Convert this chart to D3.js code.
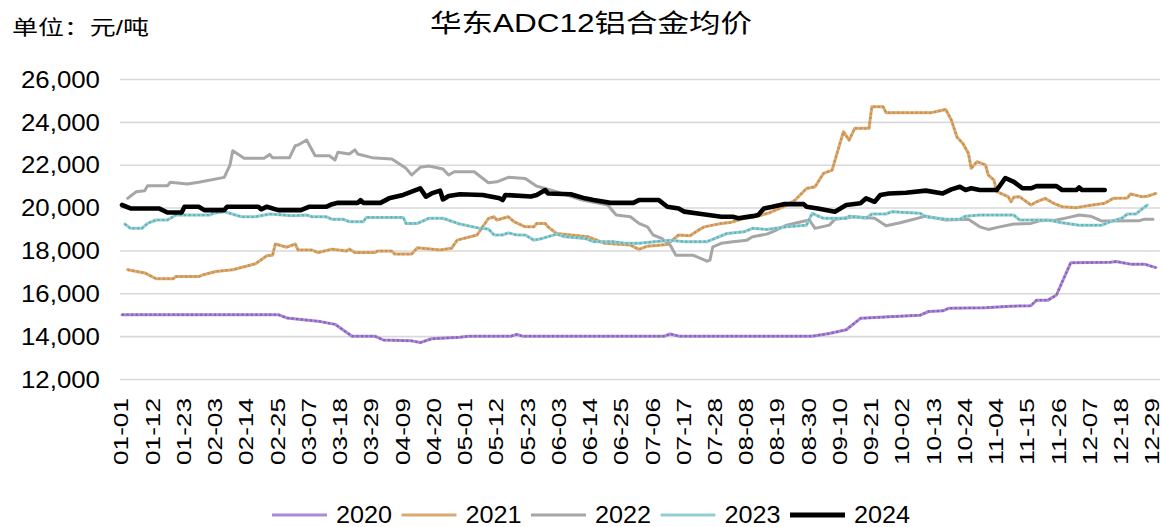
<!DOCTYPE html>
<html>
<head>
<meta charset="utf-8">
<script src="https://cdn.jsdelivr.net/npm/d3@7"></script>
<style>
  html, body { margin: 0; padding: 0; background: #fff; }
  svg { display: block; }
  text { font-family: "Liberation Sans", Arial, "Noto Sans CJK SC", sans-serif; fill: #000; }
</style>
</head>
<body>
<svg id="chart" width="1162" height="527"></svg>
<script>
// 华东ADC12铝合金均价, yearly series on a shared month-day axis
const titleText = "华东ADC12铝合金均价";
const unitText = "单位：元/吨";

const years = ["2020", "2021", "2022", "2023", "2024"];

const yTicks = [12000, 14000, 16000, 18000, 20000, 22000, 24000, 26000];

const xTickLabels = ["01-01","01-12","01-23","02-03","02-14","02-25","03-07","03-18","03-29",
  "04-09","04-20","05-01","05-12","05-23","06-03","06-14","06-25","07-06","07-17","07-28",
  "08-08","08-19","08-30","09-10","09-21","10-02","10-13","10-24","11-04","11-15","11-26",
  "12-07","12-18","12-29"];

const s2020 = [["01-01",15000],["02-25",15000],["02-28",14850],["03-04",14780],["03-10",14700],
  ["03-16",14550],["03-22",14000],["03-30",14000],["04-02",13820],["04-12",13780],["04-15",13700],
  ["04-19",13880],["04-29",13950],["05-02",14000],["05-17",14000],["05-19",14080],["05-21",14000],
  ["07-10",14000],["07-12",14100],["07-15",14000],["08-31",14000],["09-06",14120],["09-12",14300],
  ["09-17",14830],["09-27",14900],["10-08",14980],["10-11",15150],["10-16",15180],["10-18",15300],
  ["10-31",15330],["11-09",15400],["11-16",15420],["11-18",15680],["11-22",15680],["11-25",15920],
  ["11-30",17420],["12-14",17450],["12-16",17480],["12-21",17360],["12-26",17360],["12-30",17200]];

const s2021 = [["01-03",17100],["01-09",16950],["01-13",16680],["01-19",16680],["01-20",16780],
  ["01-28",16780],["01-30",16880],["02-03",17020],["02-09",17100],["02-17",17380],["02-21",17750],
  ["02-23",17780],["02-24",18300],["02-28",18150],["03-02",18300],["03-03",18020],["03-08",18020],
  ["03-10",17900],["03-15",18060],["03-20",17970],["03-21",18060],["03-23",17900],["03-30",17900],
  ["03-31",17970],["04-05",17970],["04-06",17830],["04-12",17830],["04-14",18120],["04-22",18020],
  ["04-26",18100],["04-28",18480],["05-05",18720],["05-09",19490],["05-11",19570],["05-12",19420],
  ["05-16",19570],["05-18",19340],["05-22",19100],["05-25",19100],["05-26",19260],["05-29",19260],
  ["05-30",19100],["06-02",18790],["06-07",18720],["06-13",18640],["06-19",18330],["06-28",18250],
  ["07-01",18050],["07-04",18200],["07-11",18280],["07-15",18720],["07-19",18680],["07-22",18950],
  ["07-24",19100],["07-27",19180],["07-30",19260],["08-02",19300],["08-07",19490],["08-11",19570],
  ["08-16",19760],["08-21",20040],["08-25",20350],["08-29",20890],["09-01",20970],["09-04",21600],
  ["09-07",21750],["09-11",23540],["09-13",23150],["09-15",23700],["09-20",23700],["09-21",24700],
  ["09-25",24700],["09-26",24430],["10-12",24430],["10-17",24580],["10-19",24090],["10-21",23280],
  ["10-23",23000],["10-25",22530],["10-26",21830],["10-28",22140],["10-31",21990],["11-01",21520],
  ["11-03",21280],["11-04",20740],["11-08",20510],["11-09",20270],["11-10",20480],["11-12",20510],
  ["11-16",20120],["11-18",20270],["11-21",20430],["11-24",20200],["11-27",20040],["12-02",19990],
  ["12-06",20090],["12-12",20200],["12-15",20430],["12-20",20450],["12-21",20630],["12-25",20510],
  ["12-27",20530],["12-30",20660]];

const s2022 = [["01-03",20430],["01-06",20740],["01-09",20790],["01-10",21020],["01-17",21020],
  ["01-18",21180],["01-24",21100],["01-28",21180],["02-06",21410],["02-08",21980],["02-09",22650],
  ["02-13",22300],["02-20",22300],["02-22",22480],["02-23",22330],["02-29",22330],["03-02",22890],
  ["03-03",22920],["03-06",23150],["03-09",22420],["03-14",22420],["03-16",22220],["03-17",22580],
  ["03-21",22500],["03-23",22690],["03-24",22500],["03-29",22330],["04-05",22270],["04-10",21830],
  ["04-12",21520],["04-15",21880],["04-18",21940],["04-23",21800],["04-25",21520],["04-27",21670],
  ["05-04",21670],["05-09",21160],["05-12",21200],["05-16",21410],["05-22",21360],["05-26",21000],
  ["05-29",20890],["06-02",20740],["06-11",20350],["06-20",20120],["06-23",19650],["06-28",19570],
  ["07-01",19260],["07-04",19100],["07-06",18720],["07-09",18560],["07-12",18250],["07-14",17780],
  ["07-20",17780],["07-25",17500],["07-26",17550],["07-27",18170],["07-30",18330],["08-03",18410],
  ["08-08",18480],["08-10",18640],["08-15",18760],["08-17",18870],["08-22",19180],["08-26",19300],
  ["08-30",19420],["09-01",19030],["09-06",19180],["09-08",19450],["09-15",19570],["09-22",19500],
  ["09-26",19150],["10-01",19290],["10-10",19600],["10-17",19420],["10-25",19450],["10-29",19100],
  ["11-01",18980],["11-05",19100],["11-10",19230],["11-16",19260],["11-19",19380],["11-25",19420],
  ["11-29",19530],["12-03",19650],["12-07",19600],["12-11",19370],["12-24",19380],["12-26",19460],
  ["12-29",19460]];

const s2023 = [["01-02",19230],["01-04",19030],["01-08",19030],["01-10",19260],["01-13",19420],
  ["01-17",19420],["01-20",19650],["02-01",19650],["02-02",19730],["02-06",19810],["02-12",19570],
  ["02-17",19570],["02-22",19700],["03-01",19620],["03-06",19650],["03-08",19570],["03-13",19570],
  ["03-15",19450],["03-19",19450],["03-21",19340],["03-26",19340],["03-27",19540],["04-09",19540],
  ["04-10",19260],["04-14",19260],["04-18",19500],["04-23",19500],["04-29",19230],["05-06",19030],
  ["05-09",19000],["05-11",18720],["05-14",18720],["05-16",18820],["05-19",18720],["05-22",18720],
  ["05-25",18480],["05-28",18560],["06-02",18760],["06-05",18640],["06-12",18560],["06-15",18410],
  ["06-22",18410],["06-26",18330],["07-01",18330],["07-12",18480],["07-17",18410],["07-25",18410],
  ["08-01",18790],["08-07",18870],["08-10",19030],["08-15",18980],["08-22",19100],["08-29",19180],
  ["08-31",19730],["09-04",19500],["09-12",19500],["09-13",19600],["09-19",19500],["09-21",19700],
  ["09-26",19700],["09-28",19810],["10-08",19730],["10-10",19570],["10-17",19450],["10-22",19450],
  ["10-24",19600],["10-29",19650],["11-10",19650],["11-12",19420],["11-22",19420],["11-27",19290],
  ["12-03",19180],["12-11",19180],["12-14",19340],["12-18",19500],["12-20",19700],["12-23",19700],
  ["12-25",19920],["12-27",20120]];

const s2024 = [["01-01",20120],["01-04",19960],["01-14",19960],["01-17",19770],["01-22",19770],
  ["01-23",20040],["01-28",20040],["01-30",19880],["02-06",19880],["02-07",20040],["02-18",20040],
  ["02-19",19920],["02-21",20040],["02-25",19880],["03-04",19880],["03-07",20040],["03-13",20040],
  ["03-15",20160],["03-17",20220],["03-24",20220],["03-25",20350],["03-26",20220],["04-01",20220],
  ["04-04",20430],["04-09",20590],["04-12",20740],["04-15",20900],["04-17",20510],["04-19",20660],
  ["04-22",20790],["04-23",20380],["04-25",20540],["04-29",20620],["05-07",20590],["05-13",20430],
  ["05-14",20350],["05-15",20590],["05-24",20520],["05-26",20590],["05-29",20820],["05-30",20660],
  ["06-07",20620],["06-12",20430],["06-15",20350],["06-21",20220],["06-29",20220],["07-01",20350],
  ["07-08",20350],["07-11",20040],["07-15",19960],["07-17",19810],["07-23",19700],["07-30",19570],
  ["08-03",19570],["08-05",19500],["08-10",19600],["08-12",19650],["08-14",19960],["08-17",20040],
  ["08-21",20160],["08-28",20160],["08-29",20040],["09-02",19960],["09-08",19810],["09-12",20120],
  ["09-17",20200],["09-19",20430],["09-22",20270],["09-24",20590],["09-27",20660],["10-03",20690],
  ["10-10",20790],["10-16",20660],["10-19",20850],["10-22",20970],["10-24",20820],["10-26",20900],
  ["10-29",20820],["11-04",20820],["11-07",21380],["11-10",21200],["11-13",20900],["11-16",20900],
  ["11-18",21000],["11-25",21000],["11-27",20820],["12-02",20820],["12-03",20940],["12-04",20820],
  ["12-12",20820]];

const seriesData = [s2020, s2021, s2022, s2023, s2024];

// styling per year
const lineColors = ["#a98ad3", "#d9aa72", "#a6a6a6", "#93cdd2", "#000000"];
const dotColors  = ["#7d4db3", "#c8863a", null, "#4aa9b2", null];
const lineWidths = [3, 3, 3, 3, 4.6];

const svg = d3.select("#chart");
const plotLeft = 120, plotRight = 1160, plotTop = 79, plotBottom = 379;

const parseDay = d3.timeParse("%Y-%m-%d");
const toDate = md => parseDay("2024-" + md);

const x = d3.scaleTime()
  .domain([toDate("01-01"), toDate("12-31")])
  .range([122, 1158.7]);

const y = d3.scaleLinear()
  .domain([12000, 26000])
  .range([plotBottom, plotTop]);

// titles
svg.append("text")
  .attr("x", 591).attr("y", 32)
  .attr("text-anchor", "middle")
  .attr("font-size", 25.5)
  .attr("textLength", 322).attr("lengthAdjust", "spacingAndGlyphs")
  .text(titleText);

svg.append("text")
  .attr("x", 12).attr("y", 35)
  .attr("font-size", 20.5)
  .attr("textLength", 137).attr("lengthAdjust", "spacingAndGlyphs")
  .text(unitText);

// y axis with gridlines
const yAxis = svg.append("g")
  .attr("transform", `translate(${plotLeft},0)`)
  .call(d3.axisLeft(y)
    .tickValues(yTicks)
    .tickSize(-(plotRight - plotLeft))
    .tickFormat(d3.format(",")));
yAxis.select(".domain").remove();
yAxis.selectAll(".tick line").attr("stroke", "#d9d9d9").attr("stroke-width", 1.6);
yAxis.selectAll(".tick text")
  .attr("x", -20)
  .attr("dy", "0.36em")
  .attr("font-size", 23)
  .attr("textLength", 79).attr("lengthAdjust", "spacingAndGlyphs")
  .style("font-family", '"Liberation Sans", Arial, sans-serif')
  .attr("fill", "#000");

// x axis with rotated month-day labels
const xAxis = svg.append("g")
  .attr("transform", `translate(0,${plotBottom})`)
  .call(d3.axisBottom(x)
    .tickValues(xTickLabels.map(toDate))
    .tickSize(0)
    .tickFormat(d3.timeFormat("%m-%d")));
xAxis.select(".domain").remove();
xAxis.selectAll(".tick text")
  .attr("transform", "rotate(-90)")
  .attr("x", -19)
  .attr("y", 0)
  .attr("dy", "0.28em")
  .attr("text-anchor", "end")
  .attr("font-size", 21)
  .attr("textLength", 67).attr("lengthAdjust", "spacingAndGlyphs")
  .style("font-family", '"Liberation Sans", Arial, sans-serif')
  .attr("fill", "#000");

// series lines
const line = d3.line()
  .x(d => x(toDate(d[0])))
  .y(d => y(d[1]));

const gLines = svg.append("g");
seriesData.forEach((data, i) => {
  gLines.append("path")
    .datum(data)
    .attr("fill", "none")
    .attr("stroke", lineColors[i])
    .attr("stroke-width", lineWidths[i])
    .attr("stroke-linejoin", "round")
    .attr("stroke-linecap", "round")
    .attr("d", line);
  if (dotColors[i]) {
    gLines.append("path")
      .datum(data)
      .attr("fill", "none")
      .attr("stroke", dotColors[i])
      .attr("stroke-width", 2.2)
      .attr("stroke-dasharray", "2,2.6")
      .attr("stroke-opacity", 0.75)
      .attr("stroke-linejoin", "round")
      .attr("d", line);
  }
});

// legend
const legend = svg.append("g").attr("transform", "translate(272,515)");
years.forEach((yr, i) => {
  const g = legend.append("g").attr("transform", `translate(${i * 129.5},0)`);
  g.append("line")
    .attr("x1", 0).attr("x2", 55).attr("y1", 0).attr("y2", 0)
    .attr("stroke", i === 4 ? "#000" : lineColors[i])
    .attr("stroke-width", i === 4 ? 5 : 3.2);
  g.append("text")
    .attr("x", 64).attr("y", 0).attr("dy", "0.36em")
    .attr("font-size", 23)
    .attr("textLength", 56).attr("lengthAdjust", "spacingAndGlyphs")
    .text(yr);
});
</script>
</body>
</html>
